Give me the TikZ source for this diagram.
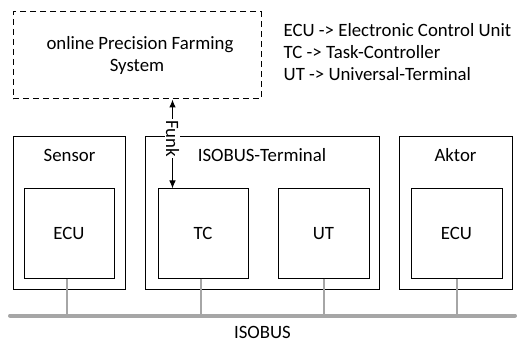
\documentclass[tikz,border=0pt]{standalone}
\usepackage{fontspec}
\setmainfont{Carlito}
\usetikzlibrary{arrows.meta,calc}
\begin{document}
\begin{tikzpicture}[x=1pt,y=-1pt,
  every node/.style={font=\fontsize{18.8}{21.7}\selectfont},
  box/.style={draw=black,line width=1pt,inner sep=0pt},
  dbox/.style={draw=black,line width=1pt,dash pattern=on 6pt off 4pt,inner sep=0pt,align=center},
  link/.style={draw=black!35,line width=2pt},
  bus/.style={draw=black!35,line width=4pt,line cap=round},
  lbl/.style={inner sep=0pt,anchor=base},
  leg/.style={inner sep=0pt,anchor=base west}]
\useasboundingbox (0,0) rectangle (517,342);
% online system
\node[dbox,minimum width=248pt,minimum height=87pt] (osys) at (137,55.5) {\hspace*{6pt}online Precision Farming\\System};
% legend
\node[leg] (leg1) at (283.5,37) {ECU -> Electronic Control Unit};
\node[leg] (leg2) at (283.5,59) {TC -> Task-Controller};
\node[leg] (leg3) at (283.5,80.5) {UT -> Universal-Terminal};
% outer boxes
\node[box,minimum width=112pt,minimum height=152pt] (sensor) at (69,213) {};
\node[box,minimum width=234pt,minimum height=152pt] (term) at (262,213) {};
\node[box,minimum width=113pt,minimum height=152pt] (aktor) at (455.5,213) {};
\node[lbl] (sensorl) at (69.5,161) {Sensor};
\node[lbl] (terml) at (262,161) {ISOBUS-Terminal};
\node[lbl] (aktorl) at (455.5,161) {Aktor};
% inner boxes
\node[box,minimum width=90pt,minimum height=89pt] (ecu1) at (69,233.5) {ECU};
\node[box,minimum width=90pt,minimum height=89pt] (tc) at (203,233.5) {TC};
\node[box,minimum width=91pt,minimum height=89pt] (ut) at (323.5,233.5) {UT};
\node[box,minimum width=91pt,minimum height=89pt] (ecu2) at (456.5,233.5) {ECU};
% bus
\coordinate (busl) at (10,315.5);
\coordinate (busr) at (515,315.5);
\draw[bus] (busl) -- (busr);
\node[lbl] (buslabel) at (262.5,338) {ISOBUS};
\foreach \n/\dx in {ecu1/-2,tc/-2,ut/0,ecu2/0}{
  \draw[link] ([xshift=\dx pt]\n.south) -- ([xshift=\dx pt]\n.south |- busl);
}
% radio link
\coordinate (ftop) at ([xshift=15pt]tc.north west |- osys.south);
\coordinate (fbot) at ([xshift=15pt]tc.north west);
\draw[line width=1pt,{Latex[length=8pt,width=6.5pt]}-{Latex[length=8pt,width=6.5pt]}] (ftop) -- node[pos=0.44,fill=white,inner sep=1pt,rotate=-90] (funk) {Funk} (fbot);
\end{tikzpicture}
\end{document}
